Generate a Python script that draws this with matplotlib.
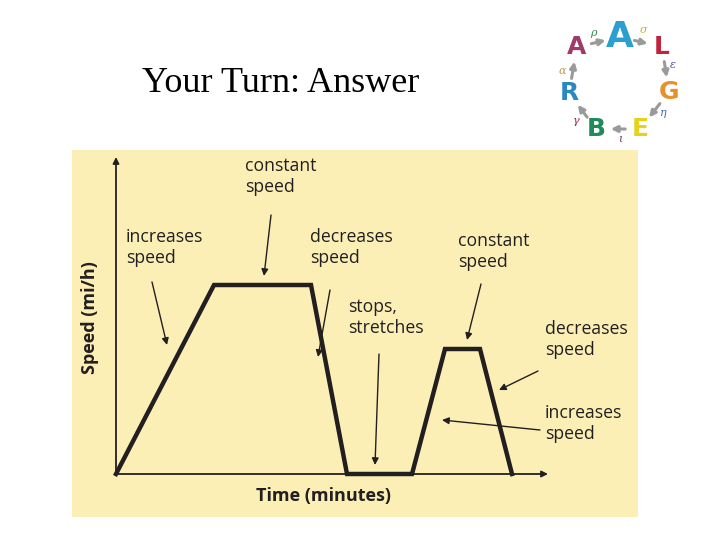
import numpy as np
import matplotlib as mpl
mpl.use('agg')
import matplotlib.pyplot as plt
from matplotlib.patches import Rectangle, FancyArrowPatch

# speed-time profile (arbitrary units)
time  = [0, 9.8, 19.5, 23.1, 29.6, 32.9, 36.4, 39.6]
speed = [0, 18.9, 18.9, 0, 0, 12.5, 12.5, 0]

notes = ['constant\nspeed', 'increases\nspeed', 'decreases\nspeed',
         'stops,\nstretches', 'constant\nspeed', 'decreases\nspeed',
         'increases\nspeed']
note_xy  = [(12.9, 31.7), (1.0, 24.6), (19.4, 24.6), (23.2, 17.6),
            (34.2, 24.2), (42.9, 15.4), (42.9, 7.0)]
arrow_from = [(15.5, 25.9), (3.6, 19.2), (21.4, 18.4), (26.3, 12.0),
              (36.5, 19.0), (42.2, 10.3), (42.4, 4.4)]
arrow_to   = [(14.8, 19.8), (5.1, 12.9), (20.2, 11.7), (25.9, 0.9),
              (35.1, 13.4), (38.3, 8.4), (32.6, 5.4)]

INK = '#231f20'
BG  = '#fbefb6'

fig = plt.figure(figsize=(7.2, 5.4), dpi=100)
fig.patch.set_facecolor('white')

# title
fig.text(142/720, 1-83/540, 'Your Turn: Answer', family='Liberation Serif',
         fontsize=26, va='center', ha='left', color='black')

# yellow panel
fig.patches.append(Rectangle((72/720, 1-517/540), 566/720, 367/540,
                             transform=fig.transFigure, facecolor=BG,
                             edgecolor='none', zorder=-5))

########################################
ax = fig.add_axes([116/720, 1-474/540, 432/720, 317/540])
ax.set_zorder(2)
ax.set_xlim(0, 43.2)
ax.set_ylim(0, 31.7)
ax.axis('off')
ax.patch.set_alpha(0)

# axes with arrow heads
for end in [(43.2, 0), (0, 31.7)]:
    ax.add_patch(FancyArrowPatch((0, 0), end, arrowstyle='-|>', mutation_scale=9,
                                 lw=1.3, color=INK, clip_on=False, shrinkA=0, shrinkB=0))

ax.plot(time, speed, color=INK, lw=3.2, solid_joinstyle='miter', clip_on=False, zorder=3)

for txt, xy, a0, a1 in zip(notes, note_xy, arrow_from, arrow_to):
    ax.text(xy[0], xy[1], txt, family='Open Sans', fontsize=12.7, color=INK,
            ha='left', va='top', linespacing=1.2, clip_on=False)
    ax.annotate('', xy=a1, xytext=a0, annotation_clip=False,
                arrowprops=dict(arrowstyle='-|>', lw=1.0, color=INK,
                                mutation_scale=10, shrinkA=0, shrinkB=0))

fig.text(323/720, 1-496/540, 'Time (minutes)', family='Open Sans', weight='bold',
         fontsize=13, ha='center', va='center', color=INK)
fig.text(90/720, 1-318/540, 'Speed (mi/h)', family='Open Sans', weight='bold',
         fontsize=13, ha='center', va='center', rotation=90, color=INK)

########################################
# small logo ring at top right
logo_letters = ['A', 'L', 'G', 'E', 'B', 'R', 'A']
logo_xy = [(620, 37), (662, 47), (669, 92), (640, 129), (596, 129), (569, 93), (577, 47)]
logo_colors = ['#2a9fd0', '#c0233b', '#e8902a', '#e6d21c', '#1f8a5a', '#2a88c0', '#a03a6a']
logo_sizes = [26, 18, 18, 18, 18, 18, 18]
greek = ['σ', 'ε', 'η', 'ι', 'γ', 'α', 'ρ']
greek_xy = [(643, 30), (673, 65), (663, 113), (620, 139), (576, 121), (562, 71), (593, 33)]
greek_colors = ['#c9b21a', '#5a4a8a', '#3a70b0', '#6a3a6a', '#8a2a4a', '#c09a50', '#3a8a4a']

for L, (px, py), c, s in zip(logo_letters, logo_xy, logo_colors, logo_sizes):
    fig.text(px/720, 1-py/540, L, family='DejaVu Sans', weight='bold', fontsize=s,
             color=c, ha='center', va='center')
for g, (px, py), c in zip(greek, greek_xy, greek_colors):
    fig.text(px/720, 1-py/540, g, family='DejaVu Serif', style='italic', fontsize=8,
             color=c, ha='center', va='center')

ring = logo_xy + [logo_xy[0]]
for (x0, y0), (x1, y1) in zip(ring[:-1], ring[1:]):
    v = np.array([x1-x0, y1-y0], float)
    n = v / np.hypot(*v)
    p0 = np.array([x0, y0]) + n*12
    p1 = np.array([x1, y1]) - n*12
    fig.patches.append(FancyArrowPatch((p0[0]/720, 1-p0[1]/540), (p1[0]/720, 1-p1[1]/540),
                                       transform=fig.transFigure, arrowstyle='-|>',
                                       mutation_scale=9, lw=2.2, color='#9a9a9a'))

plt.savefig('out.png', dpi=100, facecolor='white')
